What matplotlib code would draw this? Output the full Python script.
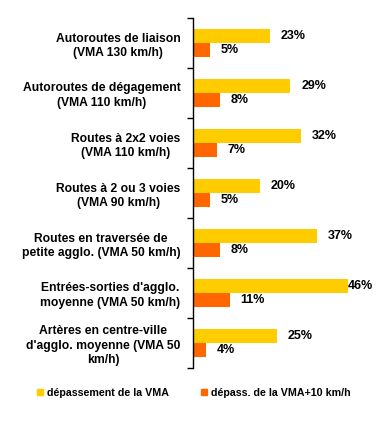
import numpy as np
import matplotlib
matplotlib.use('Agg')
import matplotlib.pyplot as plt
from matplotlib.patches import Patch

# Chart data
categories = [
    'Autoroutes de liaison\n(VMA 130 km/h)',
    'Autoroutes de dégagement\n(VMA 110 km/h)',
    'Routes à 2x2 voies\n(VMA 110 km/h)',
    'Routes à 2 ou 3 voies\n(VMA 90 km/h)',
    'Routes en traversée de\npetite agglo. (VMA 50 km/h)',
    "Entrées-sorties d'agglo.\nmoyenne (VMA 50 km/h)",
    "Artères en centre-ville\nd'agglo. moyenne (VMA 50\nkm/h)",
]
depassement_vma = [23, 29, 32, 20, 37, 46, 25]
depassement_vma10 = [5, 8, 7, 5, 8, 11, 4]
series_names = ['dépassement de la VMA', 'dépass. de la VMA+10 km/h']

yellow = '#FFCC00'
orange = '#FF6600'

plt.rcParams['font.family'] = ['Liberation Sans', 'DejaVu Sans']
plt.rcParams['font.weight'] = 'bold'

fig = plt.figure(figsize=(3.78, 4.25), dpi=100)
ax = fig.add_axes([193 / 378, 57 / 425, 168 / 378, 350 / 425])

y = np.arange(len(categories))
h = 0.28
ax.barh(y - h / 2, depassement_vma, height=h, color=yellow)
ax.barh(y + h / 2, depassement_vma10, height=h, color=orange)

# Data labels (Excel-style, outside end)
for yi, v in zip(y, depassement_vma):
    ax.text(min(v + 3.2, 46.2), yi - h / 2, f'{v}%', va='center', ha='left',
            fontsize=9, fontweight='bold')
for yi, v in zip(y, depassement_vma10):
    ax.text(v + 3.2, yi + h / 2, f'{v}%', va='center', ha='left',
            fontsize=9, fontweight='bold')

ax.set_xlim(0, 50)
ax.set_ylim(len(categories) - 0.5, -0.5)

# Category labels, right-aligned block, centered lines
ax.set_yticks(y)
ax.set_yticklabels(categories, fontsize=8.7, fontweight='bold',
                   multialignment='center', linespacing=1.28)
ax.tick_params(axis='y', which='major', length=0, pad=9)
ax.set_yticks(np.arange(len(categories) + 1) - 0.5, minor=True)
ax.tick_params(axis='y', which='minor', length=4, width=1, direction='out')

ax.set_xticks([])
for side in ['top', 'right', 'bottom']:
    ax.spines[side].set_visible(False)
ax.spines['left'].set_linewidth(1)

handles = [Patch(color=yellow), Patch(color=orange)]
fig.legend(handles, series_names, loc='center', bbox_to_anchor=(194 / 378, 1 - 393 / 425),
           ncol=2, frameon=False, handlelength=0.55, handleheight=0.55, handletextpad=0.4,
           columnspacing=3.0, prop={'size': 7.7, 'weight': 'bold'})

fig.savefig('out.png', dpi=100)
